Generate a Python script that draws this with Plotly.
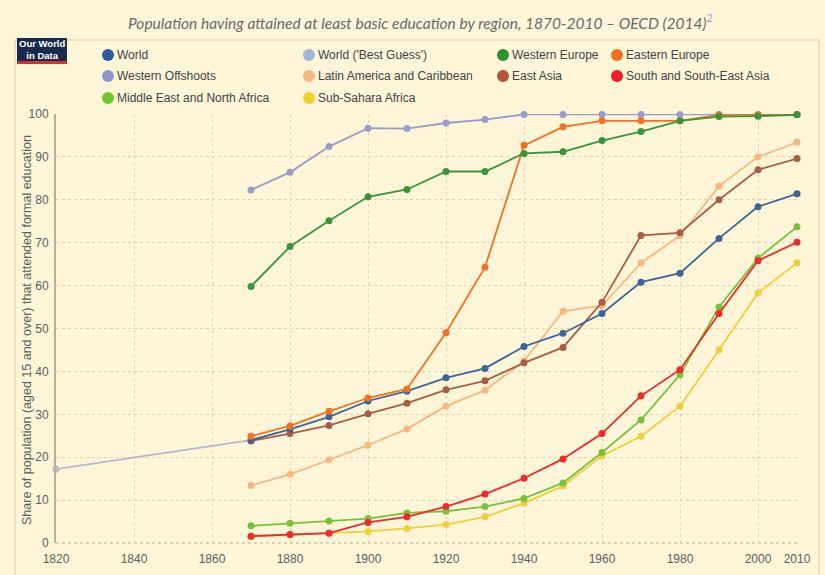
import plotly.graph_objects as go

years = [1870, 1880, 1890, 1900, 1910, 1920, 1930, 1940, 1950, 1960, 1970, 1980, 1990, 2000, 2010]
best_guess_years = [1820, 1870]

world = [24.0, 26.5, 29.4, 33.1, 35.4, 38.5, 40.7, 45.8, 48.9, 53.5, 60.8, 62.9, 71.0, 78.4, 81.4]
world_best_guess = [17.2, 24.0]
western_europe = [59.8, 69.1, 75.1, 80.7, 82.4, 86.6, 86.6, 90.8, 91.2, 93.8, 95.9, 98.4, 99.4, 99.5, 99.8]
eastern_europe = [24.9, 27.3, 30.7, 33.8, 35.9, 49.0, 64.3, 92.7, 97.0, 98.4, 98.4, 98.4, 99.8, 99.8, 99.9]
western_offshoots = [82.3, 86.4, 92.4, 96.7, 96.6, 97.9, 98.7, 99.9, 99.9, 99.9, 99.9, 99.9, 99.9, 99.9, 99.9]
latin_america = [13.4, 16.0, 19.4, 22.8, 26.6, 31.9, 35.6, 42.4, 54.0, 55.3, 65.3, 71.6, 83.2, 90.0, 93.4]
east_asia = [23.8, 25.5, 27.4, 30.1, 32.6, 35.7, 37.8, 42.0, 45.6, 56.1, 71.7, 72.3, 80.0, 87.0, 89.6]
south_asia = [1.6, 2.0, 2.3, 4.8, 6.1, 8.5, 11.4, 15.1, 19.6, 25.5, 34.3, 40.4, 53.5, 65.8, 70.1]
mena = [4.0, 4.6, 5.1, 5.7, 7.0, 7.4, 8.5, 10.4, 14.0, 21.1, 28.7, 39.2, 55.0, 66.4, 73.7]
sub_sahara = [1.5, 1.9, 2.3, 2.7, 3.4, 4.3, 6.1, 9.3, 13.3, 20.3, 24.9, 31.9, 45.0, 58.3, 65.3]

x_ticks = [1820, 1840, 1860, 1880, 1900, 1920, 1940, 1960, 1980, 2000, 2010]
y_ticks = [0, 10, 20, 30, 40, 50, 60, 70, 80, 90, 100]

title_text = "Population having attained at least basic education by region, 1870-2010 \u2013 OECD (2014)"
y_title = "Share of population (aged 15 and over) that attended formal education"

# name, legend color, line color, x, y
series = [
    ("World ('Best Guess')", "#a3b5d8", "#b7b6d3", best_guess_years, world_best_guess),
    ("Western Offshoots", "#8e97c9", "#9a9cc9", years, western_offshoots),
    ("Latin America and Caribbean", "#f6b880", "#f6b880", years, latin_america),
    ("Sub-Sahara Africa", "#f6cf2c", "#f3cd3a", years, sub_sahara),
    ("Middle East and North Africa", "#6fc72e", "#78c23a", years, mena),
    ("South and South-East Asia", "#ee1c24", "#ee2a2a", years, south_asia),
    ("East Asia", "#b0533a", "#aa5d45", years, east_asia),
    ("World", "#2c5a9c", "#3f6498", years, world),
    ("Eastern Europe", "#f07020", "#f07325", years, eastern_europe),
    ("Western Europe", "#2f922f", "#3b953b", years, western_europe),
]

legend_layout = [
    ("World", 0, 0), ("World ('Best Guess')", 1, 0), ("Western Europe", 2, 0), ("Eastern Europe", 3, 0),
    ("Western Offshoots", 0, 1), ("Latin America and Caribbean", 1, 1), ("East Asia", 2, 1), ("South and South-East Asia", 3, 1),
    ("Middle East and North Africa", 0, 2), ("Sub-Sahara Africa", 1, 2),
]
col_px = [108, 309, 503, 617]
row_px = [55, 76, 98]

W, H = 825, 575
L, R, T, B = 56, 28, 114, 32
PW, PH = W - L - R, H - T - B


def fx(px):
    return (px - L) / PW


def fy(py):
    return (H - B - py) / PH


BG = "#fcf5d8"
GRID = "#e2d2ad"
TEXT = "#5e5e5e"

fig = go.Figure()
for name, lc, color, xs, ys in series:
    fig.add_trace(go.Scatter(
        x=xs, y=ys, mode="lines+markers", name=name,
        line=dict(color=color, width=1.8),
        marker=dict(color=color, size=7),
        cliponaxis=False, showlegend=False,
    ))

colors = {s[0]: s[1] for s in series}
shapes = []
annotations = []

# frame
shapes.append(dict(type="rect", xref="paper", yref="paper", x0=fx(15), x1=fx(819), y0=fy(40), y1=fy(590),
                   line=dict(color="#e6d9bb", width=1.5), fillcolor="rgba(0,0,0,0)", layer="below"))
# logo
shapes.append(dict(type="rect", xref="paper", yref="paper", x0=fx(17), x1=fx(67), y0=fy(61), y1=fy(38),
                   line=dict(width=0), fillcolor="#1b2a4a"))
shapes.append(dict(type="rect", xref="paper", yref="paper", x0=fx(17), x1=fx(67), y0=fy(64), y1=fy(61),
                   line=dict(width=0), fillcolor="#d2342a"))
annotations.append(dict(x=fx(42), y=fy(50), xref="paper", yref="paper", showarrow=False,
                        text="<b>Our World<br>in Data</b>", align="center",
                        font=dict(family="Liberation Sans Narrow, Arial Narrow, Liberation Sans", size=9.5, color="white"),
                        xanchor="center", yanchor="middle"))

for name, c, r in legend_layout:
    cx, cy = col_px[c], row_px[r]
    shapes.append(dict(type="circle", xref="paper", yref="paper", xsizemode="pixel", ysizemode="pixel",
                       xanchor=fx(cx), yanchor=fy(cy), x0=-6, x1=6, y0=-6, y1=6,
                       fillcolor=colors[name], line=dict(width=0)))
    annotations.append(dict(x=fx(cx + 7), y=fy(cy), xref="paper", yref="paper", showarrow=False,
                            text=name, xanchor="left", yanchor="middle",
                            font=dict(family="Liberation Sans, Arial", size=12, color="#444444")))

# title
annotations.append(dict(x=fx(420), y=fy(22), xref="paper", yref="paper", showarrow=False,
                        text="<i>" + title_text + "<sup><span style='color:#8fa3cf'>2</span></sup></i>",
                        xanchor="center", yanchor="middle",
                        font=dict(family="Lato, Liberation Sans", size=15.5, color="#6a6a6a")))
# y axis title
annotations.append(dict(x=fx(27), y=fy(330), xref="paper", yref="paper", showarrow=False,
                        text=y_title, textangle=-90, xanchor="center", yanchor="middle",
                        font=dict(family="Liberation Sans, Arial", size=12.5, color=TEXT)))

# bottom axis line (dotted)
shapes.append(dict(type="line", xref="paper", yref="paper", x0=0, x1=1, y0=0, y1=0,
                   line=dict(color="#d7c3a3", width=1.5, dash="dot"), layer="below"))

fig.update_layout(
    width=W, height=H,
    margin=dict(l=L, r=R, t=T, b=B, pad=0, autoexpand=False),
    paper_bgcolor=BG, plot_bgcolor=BG,
    shapes=shapes, annotations=annotations,
    showlegend=False,
    font=dict(family="Liberation Sans, Arial", size=12, color=TEXT),
    xaxis=dict(range=[1820, 2010], tickvals=x_ticks, ticktext=[str(v) for v in x_ticks],
               showgrid=True, gridcolor=GRID, griddash="dot", gridwidth=1, automargin=False,
               zeroline=False, showline=False, ticks="", ticklen=0, ticklabelstandoff=7,
               tickfont=dict(size=12, color=TEXT), fixedrange=True),
    yaxis=dict(range=[0, 100], tickvals=y_ticks, showgrid=True, gridcolor=GRID, griddash="dot", gridwidth=1,
               zeroline=False, showline=True, linecolor="#bfae8f", linewidth=2, automargin=False,
               ticks="", ticklen=0, ticklabelstandoff=3, tickfont=dict(size=12, color=TEXT), fixedrange=True),
)

fig.write_html("out.html", config={"displayModeBar": False},
               post_script="document.body.style.margin='0';document.body.style.background='" + BG + "';")
